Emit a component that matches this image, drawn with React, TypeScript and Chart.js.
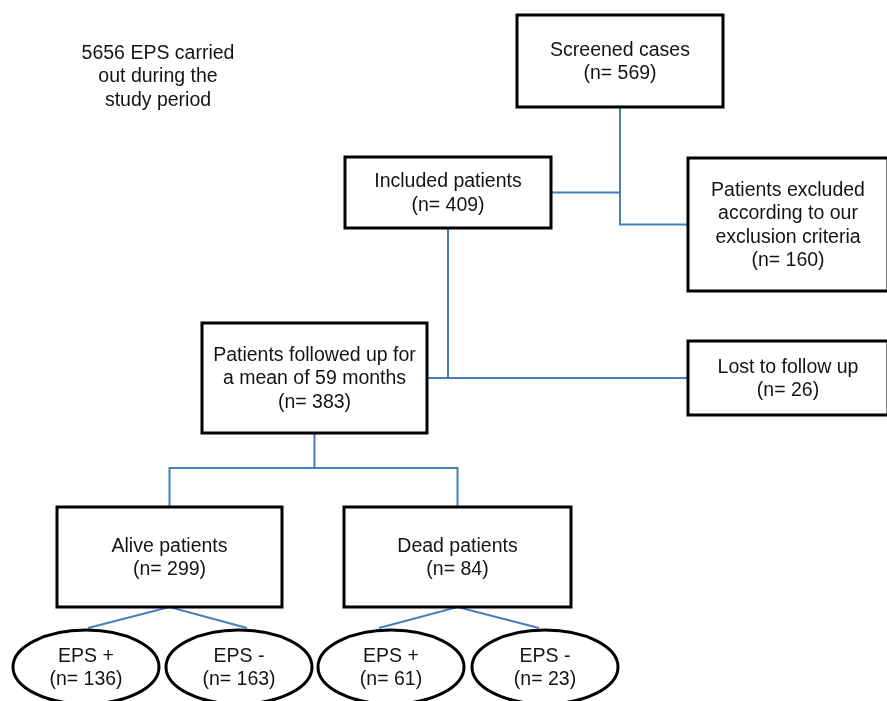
import React, { useEffect, useRef } from "react";
import { Chart, registerables } from "chart.js";

Chart.register(...registerables);

// ---- content ----
const nodeTitles = [
  "Screened cases",
  "Included patients",
  "Patients excluded\naccording to our\nexclusion criteria",
  "Patients followed up for\na mean of 59 months",
  "Lost to follow up",
  "Alive patients",
  "Dead patients",
  "EPS +",
  "EPS -",
  "EPS +",
  "EPS -",
];
const nodeCounts = [569, 409, 160, 383, 26, 299, 84, 136, 163, 61, 23];
const noteLines = ["5656 EPS carried", "out during the", "study period"];

// ---- layout (chart units: 0..887 x, 0..701 y) ----
const nodeShapes = ["rect", "rect", "rect", "rect", "rect", "rect", "rect", "ellipse", "ellipse", "ellipse", "ellipse"];
const nodeBoxes: number[][] = [
  [517, 15, 723, 107],
  [345, 157, 551, 228],
  [688, 158, 888, 291],
  [202, 323, 427, 433],
  [688, 341, 888, 415],
  [57, 507, 282, 607],
  [344, 507, 571, 607],
  [13, 630, 159, 704],
  [166, 630, 312, 704],
  [318, 630, 464, 704],
  [472, 630, 618, 704],
];
const notePos = [158, 77];

const FONT = "19.5px 'Liberation Sans', Arial, sans-serif";
const LINE_H = 23.5;
const LINE_COLOR = "#4A7EBB";

const L = (i: number) => nodeBoxes[i][0];
const T = (i: number) => nodeBoxes[i][1];
const R = (i: number) => nodeBoxes[i][2];
const B = (i: number) => nodeBoxes[i][3];
const CX = (i: number) => (nodeBoxes[i][0] + nodeBoxes[i][2]) / 2;
const CY = (i: number) => (nodeBoxes[i][1] + nodeBoxes[i][3]) / 2;

function connectorPaths(): { x: number; y: number }[][] {
  const p = (x: number, y: number) => ({ x, y });
  const bus = (B(3) + T(5)) / 2 - 2;
  return [
    [p(CX(0), B(0)), p(CX(0), CY(2)), p(L(2), CY(2))],
    [p(R(1), CY(1)), p(CX(0), CY(1))],
    [p(CX(1), B(1)), p(CX(1), CY(3))],
    [p(R(3), CY(3)), p(L(4), CY(3))],
    [p(CX(3), B(3)), p(CX(3), bus)],
    [p(CX(5), T(5)), p(CX(5), bus), p(CX(6), bus), p(CX(6), T(6))],
    [p(CX(7) + 2, T(7) - 2), p(CX(5), B(5)), p(CX(8) + 8, T(8) - 2)],
    [p(CX(9) - 12, T(9) - 2), p(CX(6), B(6)), p(CX(10) - 6, T(10) - 2)],
  ];
}

const flowPlugin = {
  id: "flowNodes",
  afterDatasetsDraw(chart: any) {
    const ctx = chart.ctx as CanvasRenderingContext2D;
    const xs = chart.scales.x;
    const ys = chart.scales.y;
    const px = (v: number) => xs.getPixelForValue(v);
    const py = (v: number) => ys.getPixelForValue(v);
    ctx.save();
    ctx.font = FONT;
    ctx.textAlign = "center";
    ctx.textBaseline = "middle";
    nodeBoxes.forEach((b, i) => {
      const x0 = px(b[0]), y0 = py(b[1]), x1 = px(b[2]), y1 = py(b[3]);
      ctx.lineWidth = 3;
      ctx.strokeStyle = "#000";
      ctx.fillStyle = "#fff";
      ctx.beginPath();
      if (nodeShapes[i] === "rect") {
        ctx.rect(x0, y0, x1 - x0, y1 - y0);
      } else {
        ctx.ellipse((x0 + x1) / 2, (y0 + y1) / 2, (x1 - x0) / 2, (y1 - y0) / 2, 0, 0, Math.PI * 2);
      }
      ctx.fill();
      ctx.stroke();
      const lines = nodeTitles[i].split("\n").concat(["(n= " + nodeCounts[i] + ")"]);
      const cx = (x0 + x1) / 2;
      const cy = (y0 + y1) / 2 + 1;
      ctx.fillStyle = "#141414";
      lines.forEach((ln, k) => {
        ctx.fillText(ln, cx, cy + (k - (lines.length - 1) / 2) * LINE_H);
      });
    });
    ctx.fillStyle = "#141414";
    noteLines.forEach((ln, k) => {
      ctx.fillText(ln, px(notePos[0]), py(notePos[1]) + (k - (noteLines.length - 1) / 2) * LINE_H);
    });
    ctx.restore();
  },
};

export default function App() {
  const ref = useRef<HTMLCanvasElement | null>(null);
  useEffect(() => {
    if (!ref.current) return;
    const datasets = connectorPaths().map((path) => ({
      data: path,
      showLine: true,
      borderColor: LINE_COLOR,
      borderWidth: 2,
      pointRadius: 0,
      tension: 0,
      fill: false,
    }));
    const chart = new Chart(ref.current, {
      type: "scatter",
      data: { datasets },
      options: {
        animation: false,
        responsive: false,
        maintainAspectRatio: false,
        layout: { padding: 0 },
        events: [],
        plugins: { legend: { display: false }, tooltip: { enabled: false } },
        scales: {
          x: { type: "linear", min: 0, max: 887, display: false },
          y: { type: "linear", min: 0, max: 701, reverse: true, display: false },
        },
      },
      plugins: [flowPlugin],
    } as any);
    return () => chart.destroy();
  }, []);
  return (
    <div style={{ position: "absolute", left: 0, top: 0, width: 887, height: 701, background: "#fff" }}>
      <canvas ref={ref} width={887} height={701} style={{ display: "block" }} />
    </div>
  );
}
